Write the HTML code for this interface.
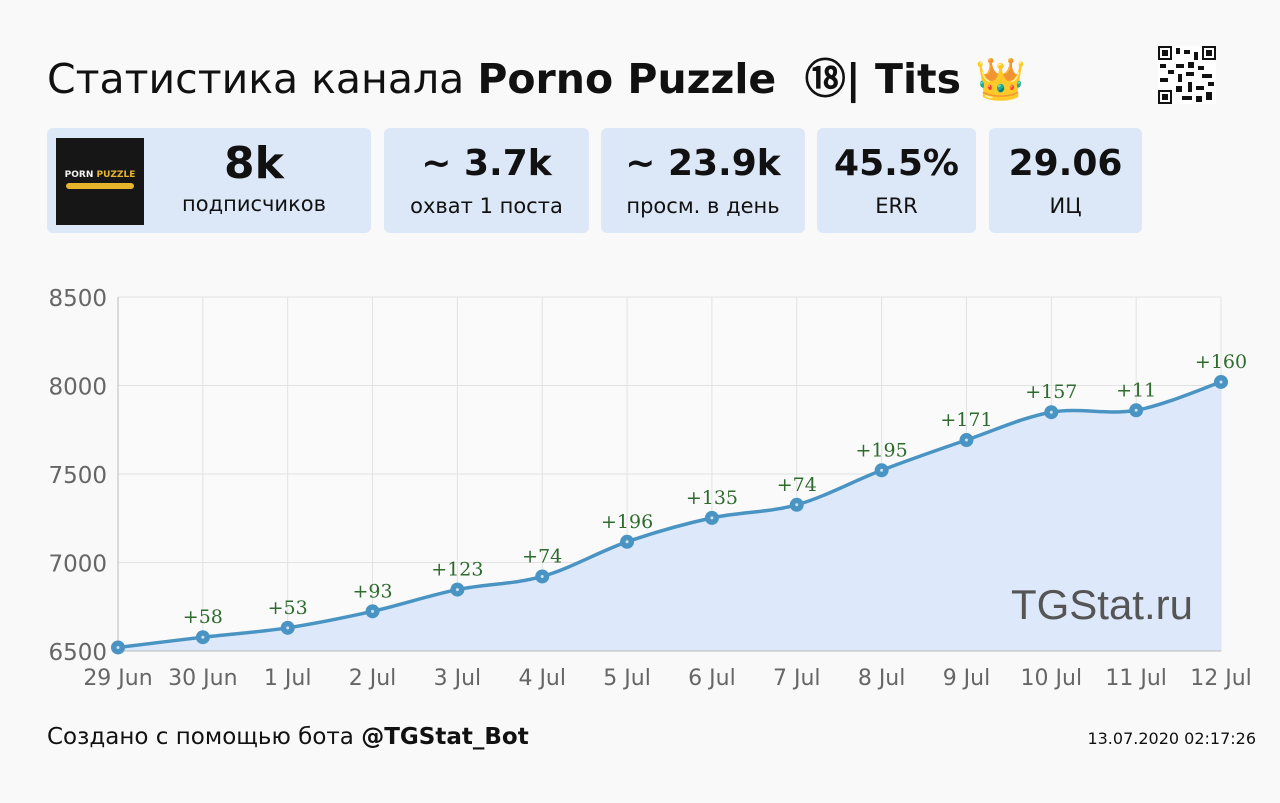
<!DOCTYPE html>
<html><head><meta charset="utf-8"><style>
body{margin:0;width:1280px;height:803px;background:#f9f9f9;font-family:"DejaVu Sans","Liberation Sans",sans-serif;position:relative;overflow:hidden}
.t{position:absolute;left:47px;top:45px;font-size:41px;color:#111;white-space:nowrap}
.card{position:absolute;top:128px;height:105px;background:#dce7f8;border-radius:6px;text-align:center}
.card b{display:block;font-size:40px;margin-top:14px;line-height:44px;color:#111}
.card span{display:block;font-size:21px;margin-top:8px;color:#111}
.logo{position:absolute;left:9px;top:10px;width:88px;height:87px;background:#161616}
.f{position:absolute;left:47px;top:724px;font-size:23px;color:#111}
.d{position:absolute;right:24px;top:729px;font-size:16px;color:#111}
</style></head><body>
<div class="t">Статистика канала <b>Porno Puzzle &nbsp;⑱| Tits 👑</b></div>
<svg style="position:absolute;left:1158px;top:46px" width="58" height="58" viewBox="0 0 29 29"><rect width="29" height="29" fill="#fff"/><g fill="#111"><path d="M0 0h7v7H0zM22 0h7v7h-7zM0 22h7v7H0z"/><path fill="#fff" d="M1 1h5v5H1zM23 1h5v5h-5zM1 23h5v5H1z"/><path d="M2 2h3v3H2zM24 2h3v3h-3zM2 24h3v3H2zM9 1h2v3H9zM13 2h3v2h-3zM9 9h4v2H9zM15 8h3v3h-3zM20 10h3v2h-3zM1 9h3v2H1zM5 12h3v2H5zM10 14h2v4h-2zM14 13h4v2h-4zM22 14h5v2h-5zM9 20h3v3H9zM15 18h2v5h-2zM19 20h4v2h-4zM24 23h3v4h-3zM12 25h5v2h-5zM19 25h3v3h-3zM1 16h4v2H1zM18 3h2v4h-2zM25 18h3v2h-3z"/></g></svg>
<div class="card" style="left:47px;width:324px"><div class="logo"><div style="color:#f2f2f2;font-size:9px;font-weight:bold;margin-top:32px">PORN <span style="display:inline;color:#e6b52c;font-size:9px">PUZZLE</span></div><div style="margin:3px 10px 0;height:6px;background:#e6b52c;border-radius:3px"></div></div><b style="margin-left:90px;margin-right:0;font-size:44px">8k</b><span style="margin-left:90px;margin-top:6px">подписчиков</span></div>
<div class="card" style="left:384px;width:205px"><b style="font-size:36px">~ 3.7k</b><span>охват 1 поста</span></div>
<div class="card" style="left:601px;width:204px"><b style="font-size:36px">~ 23.9k</b><span>просм. в день</span></div>
<div class="card" style="left:817px;width:159px"><b style="font-size:36px">45.5%</b><span>ERR</span></div>
<div class="card" style="left:989px;width:153px"><b style="font-size:36px">29.06</b><span>ИЦ</span></div>
<svg id="c" style="position:absolute;left:0;top:0" width="1280" height="803"></svg>
<div class="f">Создано с помощью бота <b>@TGStat_Bot</b></div>
<div class="d">13.07.2020 02:17:26</div>
<script>
var v=[6520,6578,6631,6724,6847,6921,7117,7252,7326,7521,7692,7849,7860,8020];
var lab=["","+58","+53","+93","+123","+74","+196","+135","+74","+195","+171","+157","+11","+160"];
var dl=["29 Jun","30 Jun","1 Jul","2 Jul","3 Jul","4 Jul","5 Jul","6 Jul","7 Jul","8 Jul","9 Jul","10 Jul","11 Jul","12 Jul"];
var x0=118,x1=1221,yT=297,yB=651;
function X(i){return x0+i*(x1-x0)/13}function Y(a){return yB-(a-6500)/2000*(yB-yT)}
var s='<rect x="118" y="297" width="1103" height="354" fill="#fafafa"/>';
for(var i=0;i<14;i++)s+='<line x1="'+X(i)+'" x2="'+X(i)+'" y1="297" y2="651" stroke="#e2e2e2"/>';
for(var k=0;k<5;k++){var y=Y(6500+k*500);s+='<line x1="118" x2="1221" y1="'+y+'" y2="'+y+'" stroke="#e2e2e2"/><text x="107" y="'+(y+9)+'" text-anchor="end" font-size="23" fill="#666">'+(6500+k*500)+'</text>';}
var P=v.map(function(a,i){return[X(i),Y(a)]});
var d='M'+P[0][0]+' '+P[0][1];
for(var i=0;i<13;i++){var p0=P[Math.max(0,i-1)],p1=P[i],p2=P[i+1],p3=P[Math.min(13,i+2)];
d+=' C'+(p1[0]+(p2[0]-p0[0])/6)+' '+(p1[1]+(p2[1]-p0[1])/6)+' '+(p2[0]-(p3[0]-p1[0])/6)+' '+(p2[1]-(p3[1]-p1[1])/6)+' '+p2[0]+' '+p2[1];}
s+='<path d="'+d+' L1221 651 L118 651Z" fill="#dde9fb"/>';
s+='<line x1="118" x2="118" y1="297" y2="651" stroke="#bbb"/><line x1="118" x2="1221" y1="651" y2="651" stroke="#bbb"/>';
s+='<text x="1193" y="619" text-anchor="end" font-family="Liberation Sans" font-size="42" fill="#555">TGStat.ru</text>';
s+='<path d="'+d+'" fill="none" stroke="#4a94c4" stroke-width="3.5"/>';
P.forEach(function(p,i){s+='<circle cx="'+p[0]+'" cy="'+p[1]+'" r="7" fill="#4a94c4"/><circle cx="'+p[0]+'" cy="'+p[1]+'" r="1.5" fill="#cfe3f2"/>';
if(lab[i])s+='<text x="'+p[0]+'" y="'+(p[1]-14)+'" text-anchor="middle" font-family="DejaVu Serif,Liberation Serif,serif" font-size="19" fill="#2e6b2e">'+lab[i]+'</text>';
s+='<text x="'+p[0]+'" y="685" text-anchor="middle" font-size="22" fill="#666">'+dl[i]+'</text>';});
document.getElementById('c').innerHTML=s;
</script>
</body></html>
